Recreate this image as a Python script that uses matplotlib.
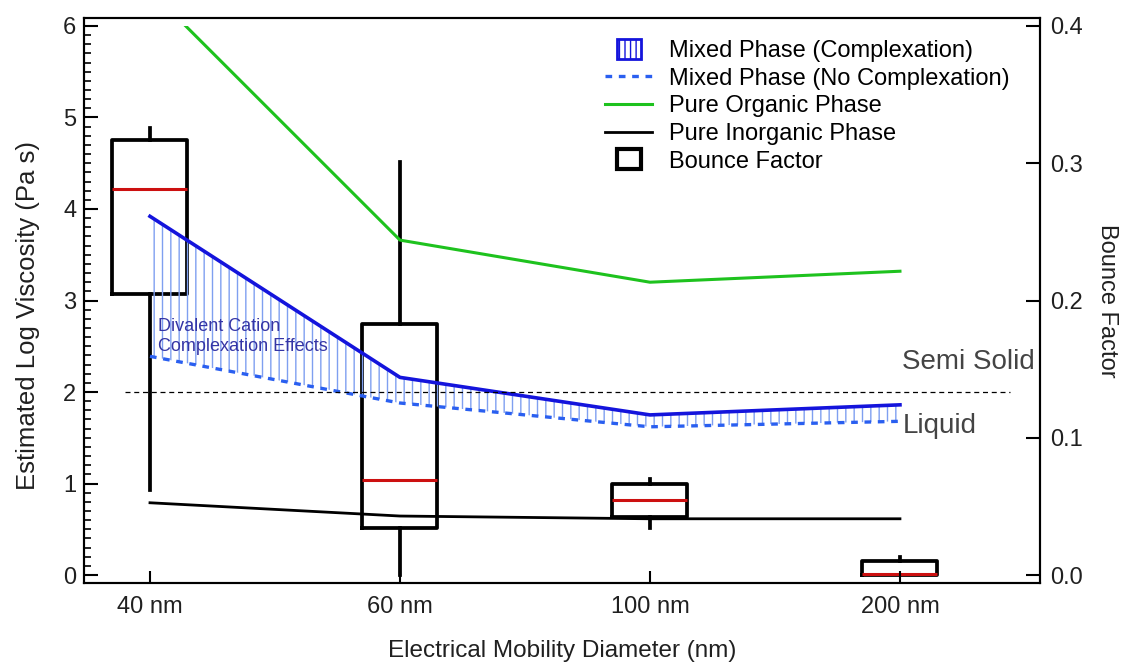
import matplotlib
matplotlib.use("Agg")
import matplotlib.pyplot as plt
from matplotlib.patches import Rectangle
from matplotlib.lines import Line2D
from matplotlib.legend_handler import HandlerPatch

plt.rcParams["font.family"] = ["Liberation Sans", "DejaVu Sans"]

# data
sizes = ["40 nm", "60 nm", "100 nm", "200 nm"]
mixed_complex = [3.92, 2.16, 1.75, 1.86]
mixed_no_complex = [2.39, 1.88, 1.62, 1.68]
pure_organic = [6.39, 3.66, 3.20, 3.32]
pure_inorganic = [0.79, 0.645, 0.615, 0.615]

# bounce factor box stats (right axis)
bf_low = [0.062, 0.0, 0.034, 0.0]
bf_q1 = [0.205, 0.034, 0.042, 0.0]
bf_med = [0.281, 0.069, 0.055, 0.0008]
bf_q3 = [0.317, 0.183, 0.066, 0.0105]
bf_high = [0.326, 0.301, 0.070, 0.013]

GREEN = "#1ec21e"
BLUE = "#1414dc"
BLUE_DASH = "#2a5ff0"
HATCH = "#7f9ff0"
TXT = "#202020"
FS = 17

plt.rcParams["hatch.color"] = HATCH
plt.rcParams["hatch.linewidth"] = 1.0

fig = plt.figure(figsize=(11.31, 6.62), dpi=100)
ax = fig.add_axes([0.0747, 0.1193, 0.9195 - 0.0747, 0.9728 - 0.1193])
ax2 = ax.twinx()
ax.set_zorder(ax2.get_zorder() + 1)
ax.patch.set_visible(False)

x = list(range(len(sizes)))

# boxes on the bounce factor axis
stats = []
for i in x:
    stats.append(dict(whislo=bf_low[i], q1=bf_q1[i], med=bf_med[i],
                      q3=bf_q3[i], whishi=bf_high[i], fliers=[]))
ax2.bxp(stats, positions=x, widths=0.3, showcaps=False, showfliers=False,
        boxprops=dict(color="black", linewidth=2.7),
        whiskerprops=dict(color="black", linewidth=2.7),
        medianprops=dict(color="#cc1010", linewidth=2.2),
        manage_ticks=False)

# mixed phase band
ax.fill_between(x, mixed_no_complex, mixed_complex, facecolor="none",
                edgecolor=HATCH, hatch="||", linewidth=0)
ax.plot(x, mixed_complex, color=BLUE, lw=2.6)
ax.plot(x, mixed_no_complex, color=BLUE_DASH, lw=2.4, ls=(0, (2.0, 2.0)))

org, = ax.plot(x, pure_organic, color=GREEN, lw=2.2)
org.set_clip_path(Rectangle((-1, -1), 6, 7.0, transform=ax.transData))
ax.plot(x, pure_inorganic, color="black", lw=2.0)

ax.hlines(2.0, -0.1, 3.44, colors="black", linestyles=(0, (4, 3)), lw=0.9)
ax.text(3.01, 2.33, "Semi Solid", fontsize=20, color="#444444", va="center")
ax.text(3.01, 1.63, "Liquid", fontsize=20, color="#444444", va="center")
ax.text(0.032, 2.61, "Divalent Cation\nComplexation Effects", fontsize=13,
        color="#3535a5", va="center", linespacing=1.25)

ax.set_xlim(-0.262, 3.56)
ax.set_ylim(-0.087, 6.087)
ax2.set_ylim(-0.087 / 15, 6.087 / 15)

ax.set_xticks(x)
ax.set_xticklabels(sizes)
ax.set_yticks(range(0, 7))
ax.set_yticks([i / 10 for i in range(0, 61)], minor=True)
ax2.set_yticks([0.0, 0.1, 0.2, 0.3, 0.4])
ax2.set_yticklabels(["0.0", "0.1", "0.2", "0.3", "0.4"])

ax.tick_params(axis="x", which="major", direction="in", length=9, width=1.5,
               labelsize=FS, pad=9, labelcolor=TXT)
ax.tick_params(axis="y", which="major", direction="in", length=10, width=1.5,
               labelsize=FS, pad=6, labelcolor=TXT)
ax.tick_params(axis="y", which="minor", direction="in", length=5, width=1.2)
ax2.tick_params(axis="y", direction="in", length=10, width=1.5,
                labelsize=FS, pad=7, labelcolor=TXT)
ax2.minorticks_off()

for a in (ax, ax2):
    for s in a.spines.values():
        s.set_linewidth(1.5)

ax.set_xlabel("Electrical Mobility Diameter (nm)", fontsize=17.5, color=TXT)
ax.xaxis.set_label_coords(0.5, -0.1)
ax.set_ylabel("Estimated Log Viscosity (Pa s)", fontsize=18.5, color=TXT)
ax.yaxis.set_label_coords(-0.0465, 0.474)
ax2.set_ylabel("Bounce Factor", fontsize=FS, color=TXT, rotation=270)
ax2.yaxis.set_label_coords(1.082, 0.5)


# legend with small square patches
def small_square(legend, orig_handle, xdescent, ydescent, width, height,
                 fontsize):
    s = height * 1.2
    return Rectangle((width / 2 - s * 0.6 - xdescent, height / 2 - s / 2 - ydescent),
                     s * 1.2, s)


handles = [
    Rectangle((0, 0), 1, 1, facecolor="white", edgecolor=BLUE, hatch="|||",
              linewidth=2.0),
    Line2D([], [], color=BLUE_DASH, lw=2.4, ls=(0, (2.0, 2.0))),
    Line2D([], [], color=GREEN, lw=2.2),
    Line2D([], [], color="black", lw=2.0),
    Rectangle((0, 0), 1, 1, facecolor="white", edgecolor="black", linewidth=3.0),
]
labels = ["Mixed Phase (Complexation)", "Mixed Phase (No Complexation)",
          "Pure Organic Phase", "Pure Inorganic Phase", "Bounce Factor"]
ax.legend(handles, labels, loc="upper left",
          bbox_to_anchor=(605 / 1131, 1 - 40 / 662),
          bbox_transform=fig.transFigure, frameon=False, fontsize=FS,
          borderpad=0, borderaxespad=0, handlelength=2.0, handletextpad=0.7,
          labelspacing=0.24,
          handler_map={Rectangle: HandlerPatch(patch_func=small_square)})

fig.savefig("out.png", dpi=100, facecolor="white")
